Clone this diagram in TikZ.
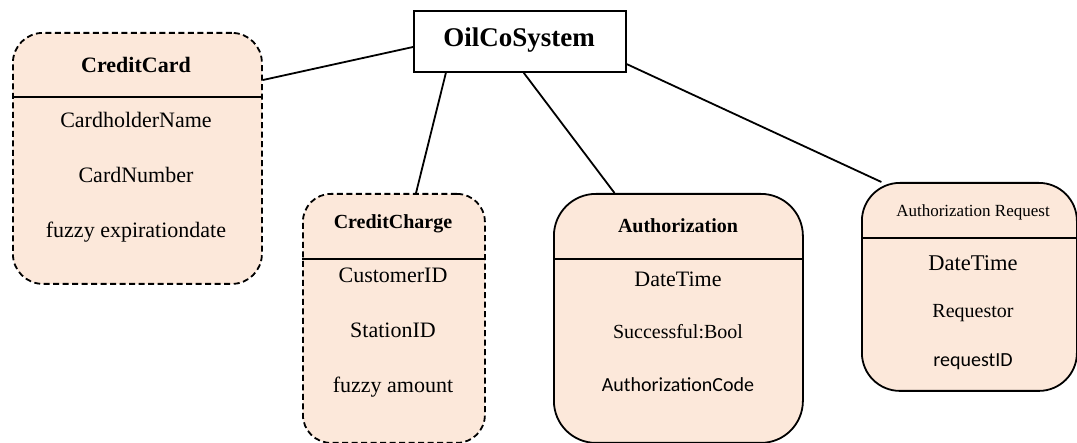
\documentclass[tikz,border=0pt]{standalone}
\usepackage{fontspec}
\setmainfont{Liberation Serif}
\newfontfamily\calfont{Carlito}
\definecolor{peach}{HTML}{FCE8DA}

\begin{document}
\begin{tikzpicture}[x=1pt,y=-1pt,
		entity/.style={draw,line width=1.8pt,fill=peach,inner sep=0pt,anchor=north west},
		weak/.style={dash pattern=on 6pt off 3.5pt},
		txt/.style={anchor=base,inner sep=0pt,font=\fontsize{22}{26}\selectfont},
		small/.style={anchor=base,inner sep=0pt,font=\fontsize{20}{24}\selectfont},
		head/.style={anchor=base,inner sep=0pt,font=\fontsize{20}{24}\selectfont\bfseries},
		link/.style={line width=1.8pt}]
		\useasboundingbox (0,0) rectangle (1077,443);
		\node[draw,line width=1.8pt,fill=white,inner sep=0pt,anchor=north west,minimum width=212pt,minimum height=61pt] (sys) at (413,10) {};
		\node[anchor=base,inner sep=0pt,font=\fontsize{27}{32}\selectfont\bfseries] (sys-title) at (519,47) {OilCoSystem};
		\node[entity,weak,rounded corners=30pt,minimum width=249pt,minimum height=251pt] (cc) at (12,32) {};
		\node[entity,weak,rounded corners=28pt,minimum width=182pt,minimum height=249pt] (ch) at (302,193) {};
		\node[entity,rounded corners=42pt,minimum width=249pt,minimum height=249pt] (auth) at (553,193) {};
		\node[entity,rounded corners=38pt,minimum width=215pt,minimum height=208pt] (areq) at (861,182) {};
		\draw[link] ([yshift=-65pt]cc.north west) -- ([yshift=-65pt]cc.north east);
		\draw[link] ([yshift=-66pt]ch.north west) -- ([yshift=-66pt]ch.north east);
		\draw[link] ([yshift=-66pt]auth.north west) -- ([yshift=-66pt]auth.north east);
		\draw[link] ([yshift=-56pt]areq.north west) -- ([yshift=-56pt]areq.north east);
		\draw[link] (sys.183) -- (cc.32);
		\draw[link] (sys.203) -- (ch.80);
		\draw[link] (sys.277) -- (auth.117);
		\draw[link] (sys.348) -- (areq.130);
		\node[head,font=\fontsize{22}{26}\selectfont\bfseries] (cc-title) at (136,73) {CreditCard};
		\node[txt] (cc-name) at (136,128) {CardholderName};
		\node[txt] (cc-number) at (136,183) {CardNumber};
		\node[txt] (cc-date) at (136,238) {fuzzy expirationdate};
		\node[head] (ch-title) at (393,229) {CreditCharge};
		\node[txt] (ch-customer) at (393,283) {CustomerID};
		\node[txt] (ch-station) at (393,338) {StationID};
		\node[txt] (ch-amount) at (393,393) {fuzzy amount};
		\node[head] (auth-title) at (678,233) {Authorization};
		\node[txt] (auth-date) at (678,287) {DateTime};
		\node[small] (auth-ok) at (678,339) {Successful:Bool};
		\node[small,font=\fontsize{20}{24}\calfont] (auth-code) at (678,392) {AuthorizationCode};
		\node[anchor=base,inner sep=0pt,font=\fontsize{17}{20}\selectfont] (areq-title) at (973,217) {Authorization Request};
		\node[txt,font=\fontsize{22.5}{26}\selectfont] (areq-date) at (973,271) {DateTime};
		\node[small] (areq-who) at (973,318) {Requestor};
		\node[small,font=\fontsize{20}{24}\calfont] (areq-id) at (973,367) {requestID};
\end{tikzpicture}
\end{document}
